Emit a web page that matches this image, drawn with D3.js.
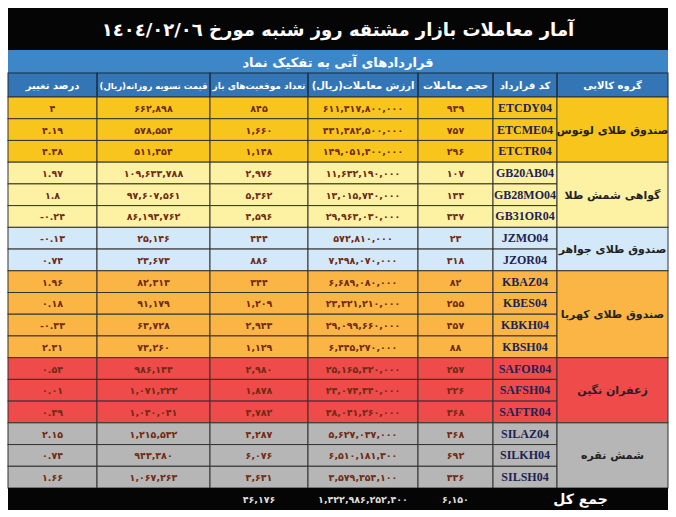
<!DOCTYPE html>
<html><head><meta charset="utf-8">
<script src="https://cdn.jsdelivr.net/npm/d3@7"></script>
<style>body{margin:0;background:#fff}svg{display:block}</style>
</head><body>
<svg id="chart" width="676" height="517"></svg>
<script>
const title = "آمار معاملات بازار مشتقه روز شنبه مورخ ١٤٠٤/٠٢/٠٦";
const subtitle = "قراردادهای آتی به تفکیک نماد";
const headers = ["درصد تغییر", "قیمت تسویه روزانه(ریال)", "تعداد موقعیت‌های باز", "ارزش معاملات(ریال)", "حجم  معاملات", "کد قرارداد", "گروه کالایی"];
const groups = ["صندوق طلای لوتوس", "گواهی شمش طلا", "صندوق طلای جواهر", "صندوق طلای کهربا", "زعفران نگین", "شمش نقره"];
const groupSizes = [3, 3, 2, 4, 3, 3];
const groupColors = ["#f8c51c", "#fdf1a4", "#d3e8f8", "#fbb545", "#ef4b4b", "#b6b6b6"];
const codes = ["ETCDY04","ETCME04","ETCTR04","GB20AB04","GB28MO04","GB31OR04","JZMO04","JZOR04","KBAZ04","KBES04","KBKH04","KBSH04","SAFOR04","SAFSH04","SAFTR04","SILAZ04","SILKH04","SILSH04"];
const volumes = [939,757,296,107,134,347,23,318,82,255,457,88,257,226,368,468,692,336];
const values = [611317800000,431382500000,149051400000,11632190000,13015740000,29963030000,572810000,7498070000,6689080000,23321210000,29099660000,6445270000,25165320000,24074340000,38041260000,5627037000,6510181300,3579354100];
const openPositions = [845,1660,1148,2976,5362,4596,444,886,344,1209,2943,1129,2980,1878,3782,4287,6076,3631];
const prices = [662898,578554,511454,109633788,97607561,86193762,25146,23673,82313,91179,63728,73260,986144,1071222,1040041,1215532,943380,1067263];
const changes = [4,4.19,4.38,1.97,1.8,-0.24,-0.13,0.74,1.96,0.18,-0.33,2.31,0.54,0.01,0.49,2.15,0.74,1.66];
const totalLabel = "جمع کل";
const totalVolume = 6150, totalValue = 1422986252400, totalOpen = 46176;

const svg = d3.select("#chart");
const fa = s => String(s).replace(/\d/g, d => "۰۱۲۳۴۵۶۷۸۹"[d]);
const fmtInt = v => fa(d3.format(",d")(v));
const fmtPct = v => fa(String(v));
const font = "DejaVu Sans, sans-serif";

const L = 8, R = 668;
const colEdges = [8, 97, 210, 308, 418, 493, 557, 668];
const x0 = i => colEdges[i], xw = i => colEdges[i + 1] - colEdges[i];

// row layout
const y = d3.scaleBand().domain(d3.range(codes.length)).range([97, 488]);
const groupOf = [];
groupSizes.forEach((n, g) => { for (let k = 0; k < n; k++) groupOf.push(g); });

// title bands
svg.append("rect").attr("x", L).attr("y", 8).attr("width", R - L).attr("height", 42).attr("fill", "#050505");
svg.append("text").attr("x", (L + R) / 2).attr("y", 36).attr("text-anchor", "middle").attr("direction", "rtl")
  .attr("fill", "#fff").style("font", `bold 18px ${font}`).text(title);
svg.append("rect").attr("x", L).attr("y", 50).attr("width", R - L).attr("height", 23).attr("fill", "#3d87c9");
svg.append("text").attr("x", (L + R) / 2).attr("y", 67).attr("text-anchor", "middle").attr("direction", "rtl")
  .attr("fill", "#fff").style("font", `bold 13px ${font}`).text(subtitle);
svg.append("rect").attr("x", L).attr("y", 73).attr("width", R - L).attr("height", 24).attr("fill", "#3475b5");
headers.forEach((h, i) => {
  svg.append("rect").attr("x", x0(i)).attr("y", 73).attr("width", xw(i)).attr("height", 24)
    .attr("fill", "none").attr("stroke", "#1b2b3a").attr("stroke-width", 1);
  svg.append("text").attr("x", x0(i) + xw(i) / 2).attr("y", 89).attr("text-anchor", "middle").attr("direction", "rtl")
    .attr("fill", "#fff").style("font", `bold ${i === 1 ? 8.5 : i === 2 ? 9 : 10}px ${font}`).text(h);
});

// data rows
const cols = [
  i => fmtPct(changes[i]), i => fmtInt(prices[i]), i => fmtInt(openPositions[i]),
  i => fmtInt(values[i]), i => fmtInt(volumes[i]), i => codes[i]
];
codes.forEach((c, r) => {
  const color = groupColors[groupOf[r]];
  cols.forEach((f, i) => {
    svg.append("rect").attr("x", x0(i)).attr("y", y(r)).attr("width", xw(i)).attr("height", y.bandwidth())
      .attr("fill", color).attr("stroke", "#333").attr("stroke-width", 1);
    svg.append("text").attr("x", x0(i) + xw(i) / 2).attr("y", y(r) + y.bandwidth() / 2 + 4)
      .attr("text-anchor", "middle").attr("direction", "ltr")
      .attr("fill", i === 5 ? "#1c2452" : "#6e2a12")
      .style("font", i === 5 ? `bold 12px Liberation Serif, serif` : `bold 9.5px ${font}`)
      .text(f(r));
  });
});

// group cells
let start = 0;
groups.forEach((g, k) => {
  const top = y(start), h = y.bandwidth() * groupSizes[k];
  svg.append("rect").attr("x", x0(6)).attr("y", top).attr("width", xw(6)).attr("height", h)
    .attr("fill", groupColors[k]).attr("stroke", "#333").attr("stroke-width", 1);
  svg.append("text").attr("x", x0(6) + xw(6) / 2).attr("y", top + h / 2 + 4).attr("text-anchor", "middle")
    .attr("direction", "rtl").attr("fill", "#222").style("font", `bold 11px ${font}`).text(g);
  start += groupSizes[k];
});

// total row
svg.append("rect").attr("x", L).attr("y", 488).attr("width", R - L).attr("height", 22).attr("fill", "#050505");
svg.append("text").attr("x", x0(5) + (R - x0(5)) / 2).attr("y", 504).attr("text-anchor", "middle").attr("direction", "rtl")
  .attr("fill", "#fff").style("font", `bold 14px ${font}`).text(totalLabel);
[[4, totalVolume], [3, totalValue], [2, totalOpen]].forEach(([i, v]) => {
  svg.append("text").attr("x", x0(i) + xw(i) / 2).attr("y", 503).attr("text-anchor", "middle").attr("direction", "ltr")
    .attr("fill", "#ddd").style("font", `bold 9.5px ${font}`).text(fmtInt(v));
});
</script>
</body></html>
